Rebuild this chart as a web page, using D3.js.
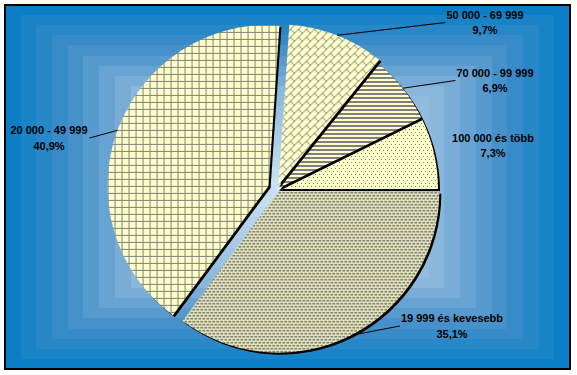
<!DOCTYPE html>
<html>
<head>
<meta charset="utf-8">
<script src="https://cdn.jsdelivr.net/npm/d3@7"></script>
<style>
	body { margin: 0; background: #fff; }
	svg { display: block; }
	text { font-family: "Liberation Sans", Arial, sans-serif; font-weight: bold; font-size: 11px; fill: #000; }
</style>
</head>
<body>
<svg id="chart"></svg>
<script>
'use strict';

// income bands and their shares (%)
const categories = ['19 999 és kevesebb', '20 000 - 49 999', '50 000 - 69 999', '70 000 - 99 999', '100 000 és több'];
const shares = [35.1, 40.9, 9.7, 6.9, 7.3];

// layout / style, kept apart from the data
const W = 577, H = 375;
const frame = { x: 5, y: 5, w: 565, h: 364 };
const pieCenter = [277, 189], radius = 161;
const explode = [3, 9, 4, 0, 0];
const labelAt = [[452, 322], [49, 134], [485, 18.5], [495, 76.5], [493, 141.5]];
const hasLeader = [true, true, true, true, false];
const lineGap = 15.5;
const yellow = '#ffffc8', gray = '#808080';

// bitmap fills like the old office hatches
const bitmaps = [
	['XXX.', 'XXX.', '....', 'X.XX', 'X.XX', '....'],
	['XXXXXXX', 'X......', 'X......', 'X......', 'X......', 'X......', 'X......'],
	['.......X', '......X.', '.....X..', '....X...', '...XX...', '..X..X..', '.X....X.', 'X......X'],
	['XXXXXXXX', 'XXXXXXXX', '........', '........'],
	['X...', '....', '....', '..X.', '....', '....']
];

const fmt = d3.formatLocale({ decimal: ',', thousands: ' ', grouping: [3], currency: ['', ''] }).format('.1f');

const svg = d3.select('#chart').attr('width', W).attr('height', H);
const defs = svg.append('defs');

bitmaps.forEach((rows, i) => {
	const p = defs.append('pattern')
		.attr('id', `pat${i}`)
		.attr('patternUnits', 'userSpaceOnUse')
		.attr('width', rows[0].length)
		.attr('height', rows.length)
		.attr('shape-rendering', 'crispEdges');
	p.append('rect').attr('width', rows[0].length).attr('height', rows.length).attr('fill', yellow);
	rows.forEach((row, y) => row.split('').forEach((c, x) => {
		if (c === 'X') p.append('rect').attr('x', x).attr('y', y).attr('width', 1).attr('height', 1).attr('fill', gray);
	}));
});

// stepped "from centre" background
const steps = 18;
const bgColor = d3.scaleLinear()
	.domain([0, 0.2, 0.45, 1])
	.range(['#0b7fc6', '#3f8dc8', '#8cb8dc', '#d0e7f6'])
	.interpolate(d3.interpolateRgb);
const bg = svg.append('g').attr('shape-rendering', 'crispEdges');
d3.range(steps).forEach(i => {
	const t = i / steps;
	bg.append('rect')
		.attr('x', frame.x + t * frame.w / 2)
		.attr('y', frame.y + t * frame.h / 2)
		.attr('width', frame.w * (1 - t))
		.attr('height', frame.h * (1 - t))
		.attr('fill', bgColor(t));
});
svg.append('rect')
	.attr('x', frame.x).attr('y', frame.y)
	.attr('width', frame.w).attr('height', frame.h)
	.attr('fill', 'none').attr('stroke', '#000').attr('stroke-width', 2);

const pie = d3.pie().sort(null).value(d => d)
	.startAngle(Math.PI / 2).endAngle(Math.PI / 2 + 2 * Math.PI);
const arcs = pie(shares);
const arc = d3.arc().innerRadius(0).outerRadius(radius);

const offset = (a, i) => {
	const mid = (a.startAngle + a.endAngle) / 2;
	return [pieCenter[0] + explode[i] * Math.sin(mid), pieCenter[1] - explode[i] * Math.cos(mid)];
};

// drawn last-to-first so each slice's shadow falls on the one before it
const g = svg.append('g');
arcs.map((a, i) => ({ a, i })).reverse().forEach(({ a, i }) => {
	const [cx, cy] = offset(a, i);
	g.append('path')
		.attr('d', arc(a))
		.attr('transform', `translate(${cx + 2},${cy + 2})`)
		.attr('fill', '#000');
	g.append('path')
		.attr('d', arc(a))
		.attr('transform', `translate(${cx},${cy})`)
		.attr('fill', `url(#pat${i})`);
});

// labels and leader lines
const labels = svg.append('g');
arcs.forEach((a, i) => {
	const [lx, ly] = labelAt[i];
	const t1 = labels.append('text').attr('x', lx).attr('y', ly).attr('text-anchor', 'middle').text(categories[i]);
	labels.append('text').attr('x', lx).attr('y', ly + lineGap).attr('text-anchor', 'middle').text(fmt(shares[i]) + '%');
	if (!hasLeader[i]) return;
	const half = t1.node().getComputedTextLength() / 2;
	const [cx, cy] = offset(a, i);
	const mid = (a.startAngle + a.endAngle) / 2;
	const px = cx + radius * Math.sin(mid), py = cy - radius * Math.cos(mid);
	const ex = px < lx ? lx - half - 1 : lx + half + 2;
	labels.append('line')
		.attr('x1', px).attr('y1', py)
		.attr('x2', ex).attr('y2', ly + 4)
		.attr('stroke', '#000').attr('stroke-width', 1);
});
</script>
</body>
</html>
